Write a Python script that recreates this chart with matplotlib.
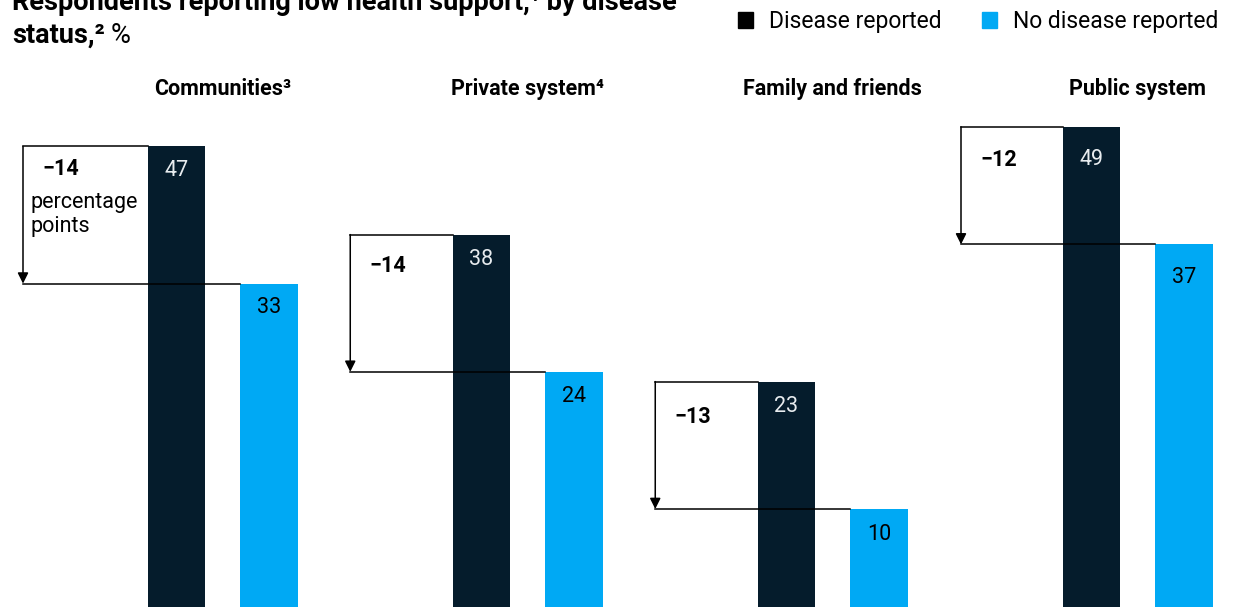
import matplotlib
matplotlib.use("Agg")
import matplotlib.pyplot as plt
from matplotlib.patches import Patch
import numpy as np

plt.rcParams['font.family'] = ['Roboto', 'DejaVu Sans']

# data
groups = ["Communities³", "Private system⁴", "Family and friends", "Public system"]
disease = [47, 38, 23, 49]
no_disease = [33, 24, 10, 37]
series_names = ["Disease reported", "No disease reported"]

DARK = "#051C2C"
BLUE = "#00A9F4"

W, H = 1237, 609
PX = 305.0      # px per group
PY = 9.8        # px per percentage point

fig = plt.figure(figsize=(W / 100, H / 100), dpi=100)
ax = fig.add_axes([0, 2 / H, 1, 607 / H])
ax.set_xlim(-222.75 / PX, (W - 222.75) / PX)
ax.set_ylim(0, 607 / PY)
ax.axis("off")

x = np.arange(len(groups))
off = 46.25 / PX
bw = 57.5 / PX
ax.bar(x - off, disease, width=bw, color=DARK)
ax.bar(x + off, no_disease, width=bw, color=BLUE)

# per-group layout tweaks (px)
bracket_left = [-199.75, -177.5, -177.5, -176.75]
value_drop = [24, 25, 25, 33]
diff_drop = [23, 31, 35, 33]

for i in range(len(groups)):
    d, n = disease[i], no_disease[i]
    bx = x[i] + bracket_left[i] / PX
    # bracket
    ax.plot([bx, x[i] - off - bw / 2], [d, d], color="black", lw=1.1, clip_on=False)
    ax.plot([bx, x[i] + off - bw / 2], [n, n], color="black", lw=1.1, clip_on=False, zorder=3)
    ax.annotate("", xy=(bx, n), xytext=(bx, d),
                arrowprops=dict(arrowstyle="-|>", color="black", lw=1.1,
                                mutation_scale=16, shrinkA=0, shrinkB=0))
    # values
    ax.text(x[i] - off, d - value_drop[i] / PY, str(d), ha="center", va="center",
            color="#E8ECEF", fontsize=15.5)
    ax.text(x[i] + off, n - value_drop[i] / PY, str(n), ha="center", va="center",
            color="black", fontsize=15.5)
    ax.text(bx + 19 / PX, d - diff_drop[i] / PY, "\u2212%d" % (d - n), ha="left",
            va="center", fontsize=15.5, fontweight="bold")
    # group title
    fig.text((222.75 + PX * i) / W, 1 - 89 / H, groups[i], ha="center", va="center",
             fontsize=15.5, fontweight="bold")

ax.text(x[0] + bracket_left[0] / PX + 8 / PX, disease[0] - 68 / PY,
        "percentage\npoints", ha="left", va="center", fontsize=15.5, linespacing=1.15)

# title (top line partly cut off in the reference)
fig.text(12 / W, 1 - 10 / H, "Respondents reporting low health support,¹ by disease",
         ha="left", va="baseline", fontsize=19.5, fontweight="bold")
t2 = fig.text(12 / W, 1 - 43 / H, "status,²", ha="left", va="baseline",
              fontsize=19.5, fontweight="bold")
fig.canvas.draw()
bb = t2.get_window_extent()
fig.text((bb.x1 + 6) / W, 1 - 43 / H, "%", ha="left", va="baseline", fontsize=19.5)

fig.legend(handles=[Patch(color="black"), Patch(color=BLUE)], labels=series_names,
           ncol=2, loc="center right", bbox_to_anchor=(1218 / W, 1 - 21.5 / H),
           frameon=False, fontsize=16.5, handlelength=0.65, handleheight=0.65,
           handletextpad=0.7, columnspacing=1.75, borderpad=0, borderaxespad=0)

fig.savefig("out.png", dpi=100)
